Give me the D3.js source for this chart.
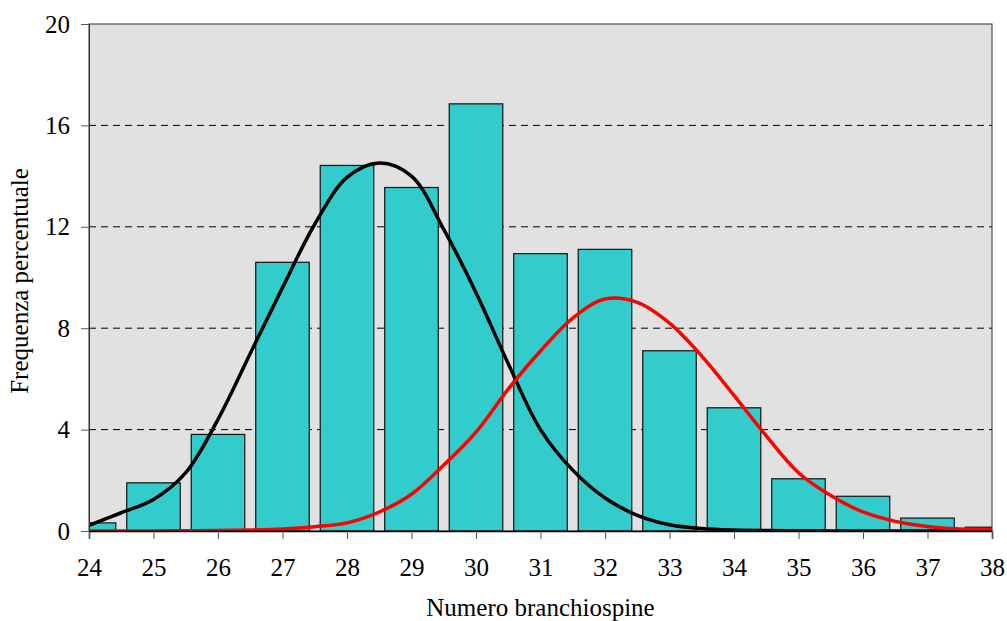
<!DOCTYPE html>
<html>

<head>
    <meta charset="UTF-8">
    <title>branchiospine</title>
    <style>
        body {
            margin: 0;
            background: #fff;
        }

        svg text {
            font-family: "Liberation Serif", "Times New Roman", serif;
            fill: #000;
        }

        .title {
            font-size: 25px;
        }
    </style>
</head>

<body>
    <svg id="chart" width="1007" height="621"></svg>

    <script src="https://cdnjs.cloudflare.com/ajax/libs/d3/7.8.5/d3.min.js"></script>

    <script>
        // classes (numero branchiospine) and their frequency
        var classes = [24, 25, 26, 27, 28, 29, 30, 31, 32, 33, 34, 35, 36, 37, 38];
        var freq = [0.32, 1.90, 3.81, 10.6, 14.42, 13.55, 16.85, 10.94, 11.11, 7.11, 4.86, 2.06, 1.37, 0.51, 0.15];

        // fitted curves, every half unit
        var curveX = [24, 24.5, 25, 25.5, 26, 26.5, 27, 27.5, 28, 28.5, 29, 29.5, 30, 30.5, 31, 31.5,
            32, 32.5, 33, 33.5, 34, 34.5, 35, 35.5, 36, 36.5, 37, 37.5, 38];
        var blackY = [0.22, 0.72, 1.24, 2.3, 4.4, 7.0, 9.6, 12.1, 13.95, 14.52, 14.0, 11.9, 9.4, 6.6, 4.0, 2.4,
            1.3, 0.62, 0.25, 0.1, 0.04, 0.02, 0.01, 0, 0, 0, 0, 0, 0];
        var redY = [0, 0, 0, 0.01, 0.02, 0.04, 0.08, 0.17, 0.32, 0.75, 1.45, 2.6, 3.9, 5.6, 7.1, 8.4,
            9.15, 9.02, 8.2, 6.9, 5.35, 3.75, 2.3, 1.4, 0.75, 0.38, 0.18, 0.08, 0.05];

        var yTicks = [0, 4, 8, 12, 16, 20];

        var svg = d3.select("#chart");
        var pLeft = 89, pRight = 992, pTop = 24, pBottom = 531;

        var x = d3.scaleLinear().domain([24, 38]).range([pLeft, pRight]);
        var y = d3.scaleLinear().domain([0, 20]).range([pBottom, pTop]);
        var step = x(25) - x(24);
        var barW = step * 0.83;

        svg.append("defs").append("clipPath").attr("id", "plotclip")
            .append("rect")
            .attr("x", pLeft).attr("y", pTop)
            .attr("width", pRight - pLeft).attr("height", pBottom - pTop);

        // plot background
        svg.append("rect")
            .attr("x", pLeft).attr("y", pTop)
            .attr("width", pRight - pLeft).attr("height", pBottom - pTop)
            .attr("fill", "#e1e1e1");

        // dashed grid
        svg.append("g")
            .selectAll("line")
            .data(yTicks.filter(d => d > 0 && d < 20))
            .join("line")
            .attr("x1", pLeft).attr("x2", pRight)
            .attr("y1", d => y(d)).attr("y2", d => y(d))
            .attr("stroke", "#000")
            .attr("stroke-width", 1)
            .attr("stroke-dasharray", "7,5");

        var plot = svg.append("g").attr("clip-path", "url(#plotclip)");

        // bars
        plot.append("g")
            .selectAll("rect")
            .data(classes)
            .join("rect")
            .attr("x", (d, i) => x(d) - barW / 2)
            .attr("y", (d, i) => y(freq[i]))
            .attr("width", barW)
            .attr("height", (d, i) => y(0) - y(freq[i]))
            .attr("fill", "#33cccc")
            .attr("stroke", "#111")
            .attr("stroke-width", 1.2);

        // frame
        svg.append("rect")
            .attr("x", pLeft).attr("y", pTop)
            .attr("width", pRight - pLeft).attr("height", pBottom - pTop)
            .attr("fill", "none")
            .attr("stroke", "#333")
            .attr("stroke-width", 1);

        // axes
        var xAxis = svg.append("g")
            .attr("transform", "translate(0," + pBottom + ")")
            .call(d3.axisBottom(x).tickValues(classes).tickSize(8).tickPadding(19).tickFormat(d3.format("d")));
        xAxis.select(".domain").attr("stroke", "#000").attr("stroke-width", 1.5);
        xAxis.selectAll(".tick line").attr("stroke", "#555");
        xAxis.selectAll(".tick text")
            .style("font-size", "25px")
            .style("font-family", "'Liberation Serif', serif");

        var yAxis = svg.append("g")
            .attr("transform", "translate(" + pLeft + ",0)")
            .call(d3.axisLeft(y).tickValues(yTicks).tickSize(8).tickPadding(11));
        yAxis.select(".domain").attr("stroke", "#333");
        yAxis.selectAll(".tick line").attr("stroke", "#555");
        yAxis.selectAll(".tick text")
            .style("font-size", "25px")
            .style("font-family", "'Liberation Serif', serif");

        // curves
        var line = d3.line()
            .x((d, i) => x(curveX[i]))
            .y(d => y(d))
            .curve(d3.curveCatmullRom.alpha(0.5));

        plot.append("path")
            .datum(blackY)
            .attr("d", line)
            .attr("fill", "none")
            .attr("stroke", "#000")
            .attr("stroke-width", 3.5);

        plot.append("path")
            .datum(redY)
            .attr("d", line)
            .attr("fill", "none")
            .attr("stroke", "#ff0000")
            .attr("stroke-width", 3.5);

        // titles
        svg.append("text")
            .attr("class", "title")
            .attr("x", (pLeft + pRight) / 2)
            .attr("y", 616)
            .attr("text-anchor", "middle")
            .text("Numero branchiospine");

        svg.append("text")
            .attr("class", "title")
            .attr("transform", "translate(28,281) rotate(-90)")
            .attr("text-anchor", "middle")
            .text("Frequenza percentuale");
    </script>

</body>

</html>
